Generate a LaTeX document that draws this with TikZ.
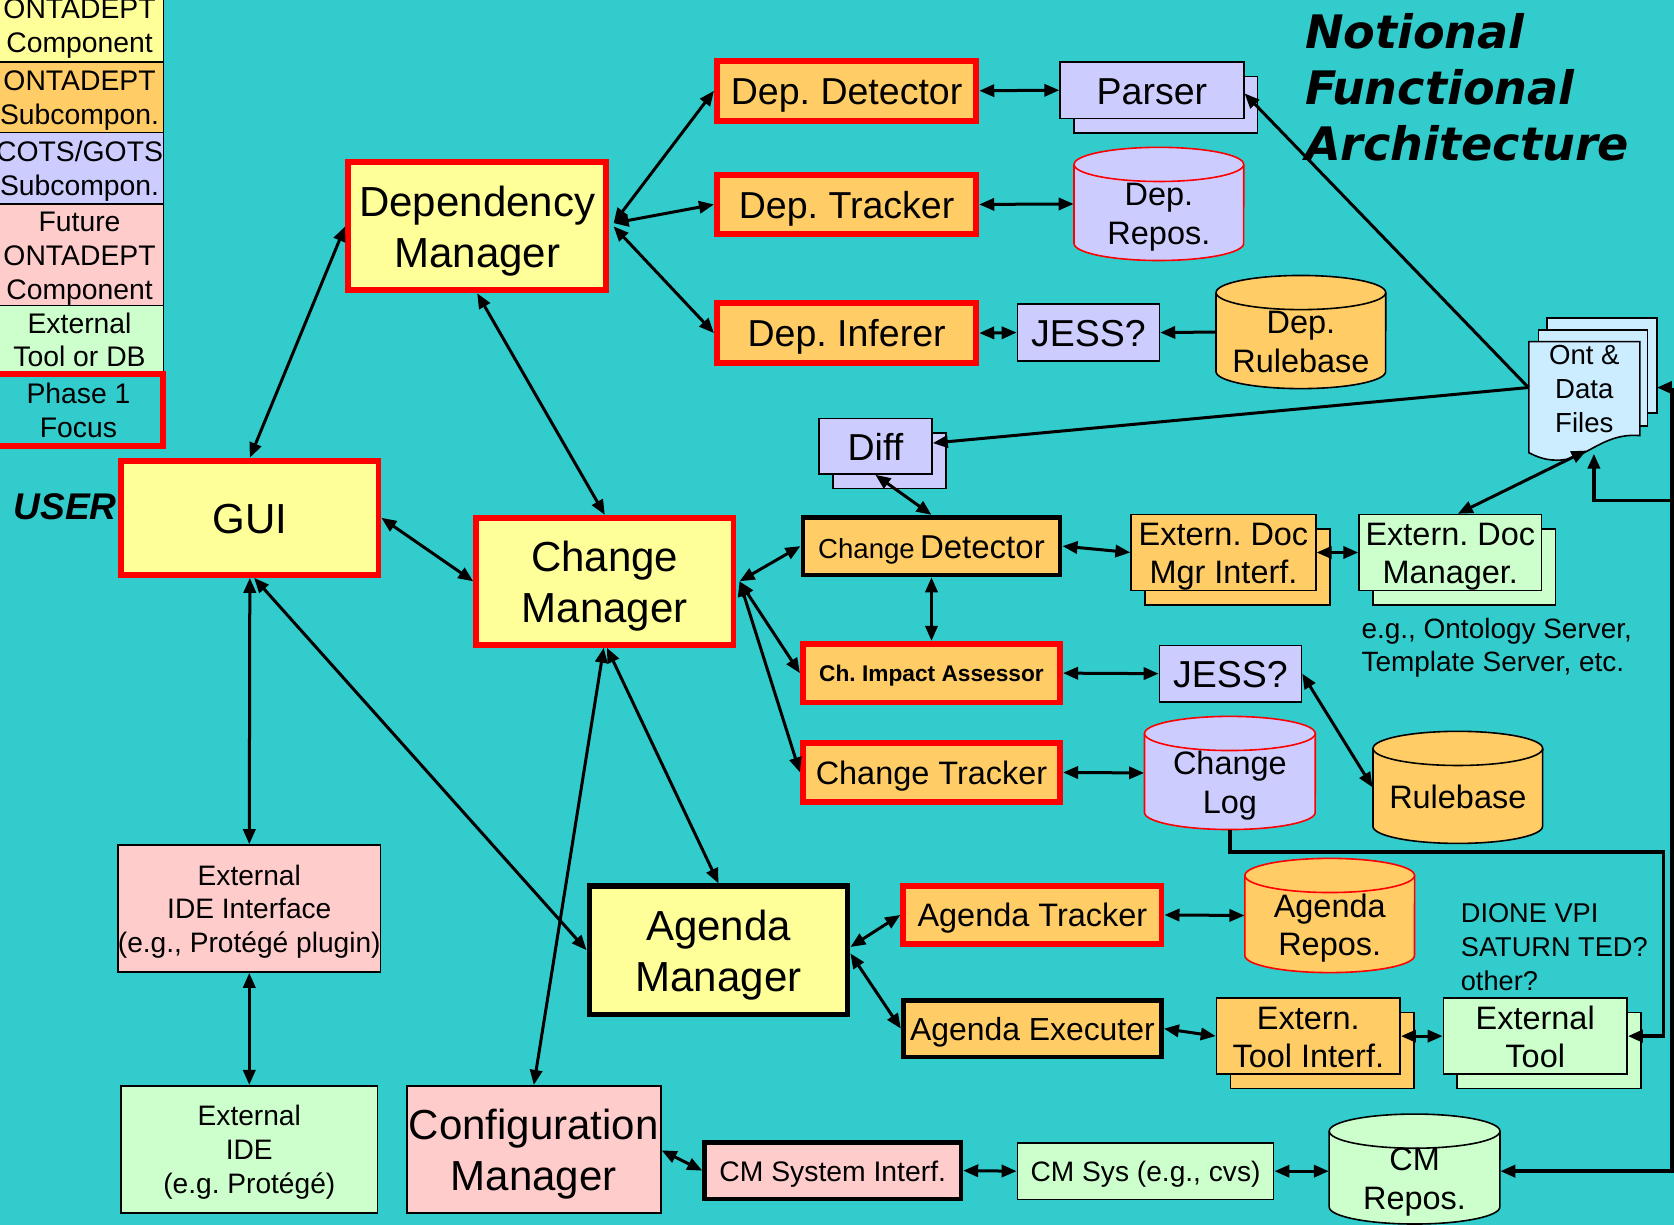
\documentclass[tikz,border=0pt]{standalone}
\usepackage{fontspec}
\setmainfont{Liberation Sans}
\newfontfamily\titlefont{DejaVu Sans Bold Oblique}
\usetikzlibrary{arrows.meta,shadows,calc}
\frenchspacing
\definecolor{teal1}{HTML}{33CCCC}
\definecolor{yel}{HTML}{FFFF99}
\definecolor{ora}{HTML}{FFCC66}
\definecolor{lav}{HTML}{CCCCFF}
\definecolor{pnk}{HTML}{FFCCCC}
\definecolor{grn}{HTML}{CCFFCC}
\definecolor{blu}{HTML}{CCECFF}
\newcommand\myfs[2]{\fontsize{#1}{#2}\selectfont}
\newcommand\sst{\vrule height .95em depth .21em width 0pt}
\tikzset{
 nt/.style={rectangle, inner sep=0pt, align=center, text=black},
 nb/.style={nt},
 sz/.style 2 args={minimum width={#1*0.02cm}, minimum height={#2*0.02cm}},
 thinb/.style={draw=black, line width=0.85pt},
 redb/.style={draw=red, line width=3.1pt},
 blkb/.style={draw=black, line width=2.5pt},
 stack/.style={copy shadow={shadow xshift=0.26cm, shadow yshift=-0.27cm}},
 >={Triangle[length=8pt,width=6.5pt]},
 arr/.style={<->, line width=1.6pt},
 sarr/.style={->, line width=1.6pt},
 fbig/.style={font=\myfs{22.4pt}{27.2pt}},
 fsub/.style={font=\myfs{20pt}{24pt}},
 fmid/.style={font=\myfs{17.3pt}{20.4pt}},
 fsmall/.style={font=\myfs{15pt}{18.1pt}},
 fleg/.style={font=\myfs{15.1pt}{18.1pt}},
}
% name, cx, cy, w, h, fill, draw, text
\newcommand\mycyl[8]{%
 \fill[#6] ({#2-#4/2},{#3-#5/2+16}) -- ({#2-#4/2},{#3+#5/2-16})
   arc[start angle=180,end angle=360,x radius={#4*0.01cm},y radius=0.32cm]
   -- ({#2+#4/2},{#3-#5/2+16}) -- cycle;
 \draw[#7,line width=0.85pt] ({#2-#4/2},{#3-#5/2+16}) -- ({#2-#4/2},{#3+#5/2-16})
   arc[start angle=180,end angle=360,x radius={#4*0.01cm},y radius=0.32cm]
   -- ({#2+#4/2},{#3-#5/2+16});
 \filldraw[fill=#6,draw=#7,line width=0.85pt] (#2,{#3-#5/2+16}) ellipse[x radius={#4*0.01cm},y radius=0.32cm];
 \node[nt,sz={#4}{#5}] (#1) at (#2,#3) {};
 \node[nb,fmid] (#1t) at (#2,{#3+8.5}) {\sst #8\sst};
}
\begin{document}
\begin{tikzpicture}[x=0.02cm,y=-0.02cm]
\fill[teal1] (0,0) rectangle (1568,1147);
\useasboundingbox (0,0) rectangle (1568,1147);

% legend
\node[nb,sz={157}{70},fill=yel,thinb,fleg] (lg1) at (74.5,23) {\sst ONTADEPT\\Component\sst};
\node[nb,sz={157}{66},fill=ora,thinb,fleg] (lg2) at (74.5,91) {\sst ONTADEPT\\Subcompon.\sst};
\node[nb,sz={157}{67},fill=lav,thinb,fleg] (lg3) at (74.5,157.5) {\sst COTS/GOTS\\Subcompon.\sst};
\node[nb,sz={157}{95},fill=pnk,thinb,fleg] (lg4) at (74.5,238.5) {\sst Future\\ONTADEPT\\Component\sst};
\node[nb,sz={157}{64},fill=grn,thinb,fleg] (lg5) at (74.5,318) {\sst External\\Tool or DB\sst};
\node[nb,sz={159}{68},redb,fleg] (lg6) at (73.5,384) {\sst Phase 1\\Focus\sst};

% title
\node[nt,anchor=west,align=left,font=\titlefont\myfs{24.6pt}{29.8pt}] (title) at (1222,82) {Notional\\Functional\\Architecture};

% dependency part
\node[nb,sz={242}{120},fill=yel,redb,fbig] (DM) at (447,212) {\sst Dependency\\Manager\sst};
\node[nb,sz={243}{56},fill=ora,redb,fsub] (DepDet) at (793,85) {\sst Dep. Detector\sst};
\node[nb,sz={172}{53},fill=lav,thinb,fsub,stack] (Parser) at (1079,84.5) {\sst Parser\sst};
\node[nb,sz={243}{55},fill=ora,redb,fsub] (DepTrk) at (793,191.5) {\sst Dep. Tracker\sst};
\mycyl{DepRepos}{1085.5}{191}{159}{106}{lav}{red}{Dep.\\Repos.}
\node[nb,sz={243}{56},fill=ora,redb,fsub] (DepInf) at (793,312) {\sst Dep. Inferer\sst};
\node[nb,sz={133}{53},fill=lav,thinb,fsub] (JESSa) at (1019.5,311.5) {\sst JESS?\sst};
\mycyl{DepRule}{1218.5}{311}{159}{106}{ora}{black}{Dep.\\Rulebase}

% ont files
\filldraw[fill=blu,draw=black,line width=0.85pt] (1449,298) rectangle (1552,387);
\filldraw[fill=blu,draw=black,line width=0.85pt] (1441,309) rectangle (1543,399);
\filldraw[fill=blu,draw=black,line width=0.85pt] (1432,320) -- (1536,320) -- (1536,408)
  .. controls (1500,405) and (1485,432) .. (1458,431)
  .. controls (1446,431) and (1438,427) .. (1432,424) -- cycle;
\node[nb,sz={104}{90},font=\myfs{14.7pt}{18.1pt}] (ont) at (1484,364) {\sst Ont \&\\Data\\Files\sst};

% change part
\node[nb,sz={106}{52},fill=lav,thinb,fsub,stack] (Diff) at (820,418) {\sst Diff\sst};
\node[nb,sz={241}{54},fill=ora,blkb] (ChDet) at (872.5,511.5) {{\myfs{17.6pt}{18pt}\sst}{\myfs{14.7pt}{18pt}Change} {\myfs{17.6pt}{18pt}Detector\sst}};
\node[nb,sz={173}{66},fill=ora,thinb,fmid,stack] (EDMI) at (1146,517.5) {\sst Extern. Doc\\Mgr Interf.\sst};
\node[nb,sz={171}{66},fill=grn,thinb,fmid,stack] (EDM) at (1358.5,517.5) {\sst Extern. Doc\\Manager.\sst};
\node[nt,anchor=west,align=left,font=\myfs{14.9pt}{17.6pt}] (egtxt) at (1275,607) {e.g., Ontology Server,\\Template Server, etc.};
\node[nb,sz={241}{55},fill=ora,redb,font=\bfseries\myfs{12.1pt}{14pt}] (CIA) at (872.5,630.5) {\sst Ch. Impact Assessor\sst};
\node[nb,sz={133}{53},fill=lav,thinb,fsub] (JESSb) at (1152.5,631) {\sst JESS?\sst};
\node[nb,sz={241}{55},fill=ora,redb,fmid] (ChTrk) at (872.5,723.5) {\sst Change Tracker\sst};
\mycyl{ChLog}{1152}{724}{160}{106}{lav}{red}{Change\\Log}
\mycyl{Rule}{1365.5}{737.5}{159}{105}{ora}{black}{Rulebase}

% left part
\node[nb,sz={241}{107},fill=yel,redb,fbig] (GUI) at (234,485) {\sst GUI\sst};
\node[nt,font=\bfseries\itshape\myfs{19.8pt}{20pt}] (USER) at (61,475) {USER};
\node[nb,sz={241}{119},fill=yel,redb,fbig] (CM) at (566.5,544.5) {\sst Change\\Manager\sst};
\node[nb,sz={240}{119},fill=pnk,thinb,fsmall] (EIDEI) at (233.5,851) {\sst External\\IDE Interface\\(e.g., Protégé plugin)\sst};
\node[nb,sz={240}{119},fill=grn,thinb,fsmall] (EIDE) at (233.5,1076.5) {\sst External\\IDE\\(e.g. Protégé)\sst};

% agenda part
\node[nb,sz={242}{120},fill=yel,draw=black,line width=2.9pt,fbig] (AM) at (673,890) {\sst Agenda\\Manager\sst};
\node[nb,sz={242}{54},fill=ora,redb,fmid] (AT) at (967,857) {\sst Agenda Tracker\sst};
\mycyl{AR}{1245.5}{857.5}{159}{107}{ora}{red}{Agenda\\Repos.}
\node[nb,sz={242}{53},fill=ora,blkb,font=\myfs{17pt}{18pt}] (AE) at (967,963.5) {\sst Agenda Executer\sst};
\node[nb,sz={172}{66},fill=ora,thinb,fmid,stack] (ETI) at (1225.5,970.5) {\sst Extern.\\Tool Interf.\sst};
\node[nb,sz={172}{66},fill=grn,thinb,fmid,stack] (ET) at (1438,970.5) {\sst External\\Tool\sst};
\node[nt,anchor=west,align=left,font=\myfs{14.5pt}{18.1pt}] (dione) at (1368,887) {DIONE VPI\\SATURN TED?\\other?};

% configuration part
\node[nb,sz={238}{119},fill=pnk,thinb,fbig] (CfgM) at (500,1076.5) {\sst Configuration\\Manager\sst};
\node[nb,sz={240}{53},fill=pnk,blkb,font=\myfs{15.1pt}{18pt}] (CMSI) at (780,1096.5) {\sst CM System Interf.\sst};
\node[nb,sz={240}{53},fill=grn,thinb,font=\myfs{15pt}{18pt}] (CMS) at (1073,1097) {\sst CM Sys (e.g., cvs)\sst};
\mycyl{CMR}{1325}{1095}{160}{103}{grn}{black}{CM\\Repos.}

% helper coordinates
\coordinate (rA) at (1566,363);
\coordinate (rB) at (1566,469);
\coordinate (rC) at (1558,798);
\coordinate (ontR) at (1552,363);
\coordinate (ontS1) at (1486,422);
\coordinate (ontS2) at (1493,425);

% connectors
\draw[arr] ([shift={(4,-3)}]DM.east) -- (DepDet.west);
\draw[arr] ([shift={(4,-3)}]DM.east) -- (DepTrk.west);
\draw[arr] ([shift={(4,0)}]DM.east) -- (DepInf.west);
\draw[arr] (DepDet.east) -- (Parser.west);
\draw[arr] (DepTrk.east) -- (DepRepos.west);
\draw[arr] (DepInf.east) -- (JESSa.west);
\draw[sarr] (DepRule.west) -- (JESSa.east);
\draw[sarr] ([shift={(0,-1)}]ont.west) -- ([shift={(0,3)}]Parser.east);
\draw[sarr] ([shift={(0,-1)}]ont.west) -- ([shift={(0,-3)}]Diff.east);
\draw[arr] (Diff.south) -- (ChDet.north);
\draw[arr] (ChDet.south) -- (CIA.north);
\draw[arr] (ChDet.east) -- (EDMI.west);
\draw[arr] (EDMI.east) -- (EDM.west);
\draw[arr] ([shift={(7,0)}]EDM.north) -- (ontS1);
\draw[arr] ([shift={(3,0)}]CM.east) -- (ChDet.west);
\draw[arr] ([shift={(3,0)}]CM.east) -- (CIA.west);
\draw[arr] ([shift={(3,0)}]CM.east) -- (ChTrk.west);
\draw[arr] (CIA.east) -- (JESSb.west);
\draw[arr] (Rule.west) -- (JESSb.east);
\draw[arr] (ChTrk.east) -- (ChLog.west);
\draw[arr] (DM.south) -- (CM.north);
\draw[arr] (GUI.north) -- (DM.west);
\draw[arr] (GUI.east) -- (CM.west);
\draw[arr] (GUI.south) -- (EIDEI.north);
\draw[arr] ([shift={(4,0)}]GUI.south) -- (AM.west);
\draw[arr] ([shift={(2,0)}]CM.south) -- (AM.north);
\draw[arr] ([shift={(-1,0)}]CM.south) -- (CfgM.north);
\draw[arr] (EIDEI.south) -- (EIDE.north);
\draw[arr] ([shift={(0,-3)}]AM.east) -- (AT.west);
\draw[arr] ([shift={(0,3)}]AM.east) -- (AE.west);
\draw[arr] (AT.east) -- (AR.west);
\draw[arr] (AE.east) -- (ETI.west);
\draw[arr] (ETI.east) -- (ET.west);
\draw[arr] ([shift={(0,1)}]CfgM.east) -- (CMSI.west);
\draw[arr] (CMSI.east) -- (CMS.west);
\draw[arr] (CMS.east) -- ([shift={(0,2)}]CMR.west);
\draw[sarr,line width=1.8pt] (rA) -- (ontR);
\draw[sarr,line width=1.8pt] (rA) |- ([shift={(0,2)}]CMR.east);
\draw[sarr,line width=1.8pt] (rB) -| (ontS2);
\draw[sarr,line width=1.8pt] (ChLog.south) |- (rC) |- (ET.east);
\end{tikzpicture}
\end{document}
